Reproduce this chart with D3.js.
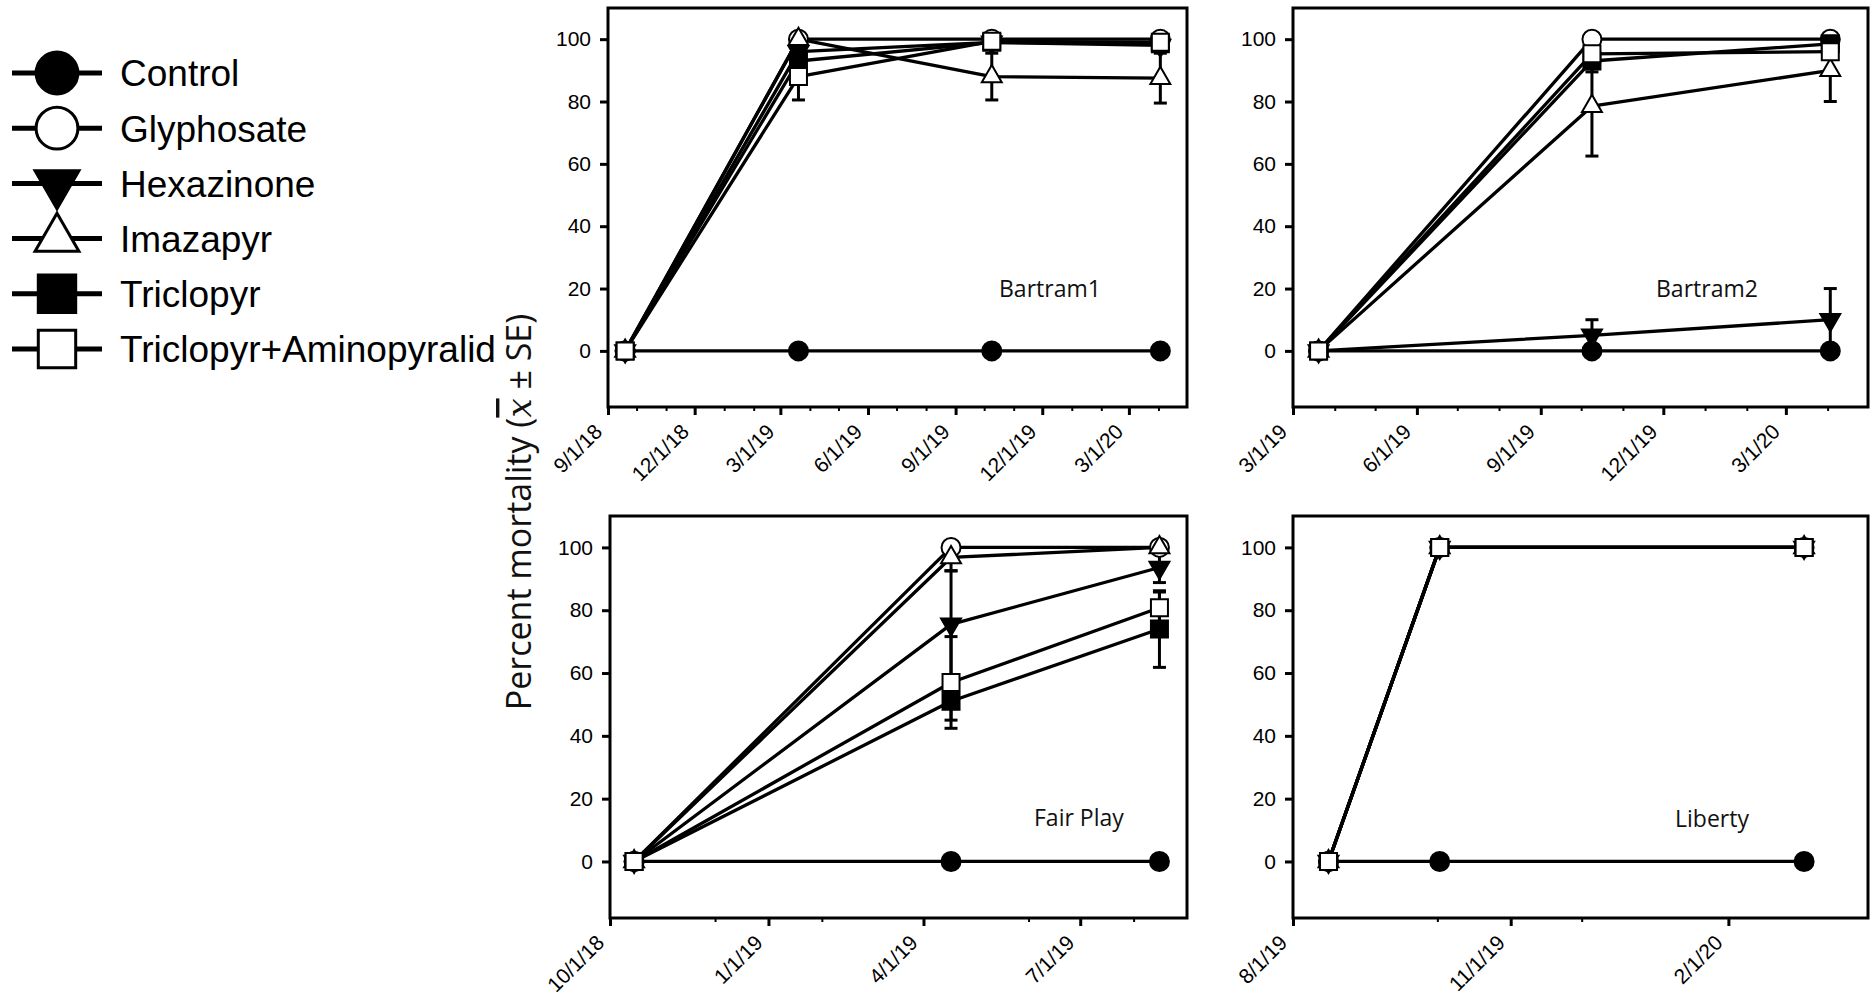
<!DOCTYPE html>
<html><head><meta charset="utf-8">
<script src="https://cdn.jsdelivr.net/npm/d3@7"></script>
<style>body{margin:0;background:#fff} svg{display:block}</style>
</head><body><svg id="chart" width="1870" height="999"></svg>
<script>
// ---------------- DATA ----------------
const seriesNames = ["Control","Glyphosate","Hexazinone","Imazapyr","Triclopyr","Triclopyr+Aminopyralid"];
const siteNames = ["Bartram1","Bartram2","Fair Play","Liberty"];
const yTickValues = [0,20,40,60,80,100];
const yDomain = [-18,110];

const bartram1Dates = ["9/19/18","3/20/19","10/9/19","4/3/20"];
const bartram1Values = [
  [0,0,0,0],
  [0,100,100,100],
  [0,96,99,98],
  [0,100,88,87.5],
  [0,93,99,98.5],
  [0,88,99.3,99]
];
const bartram1SE = [
  [0,0,0,0],[0,0,0,0],[0,0,0,0],[0,0,7.5,8],[0,0,0,0],[0,7.5,0,0]
];
const bartram1AxisDomain = ["9/1/18","5/1/20"];
const bartram1TickLabels = ["9/1/18","12/1/18","3/1/19","6/1/19","9/1/19","12/1/19","3/1/20"];

const bartram2Dates = ["3/20/19","10/9/19","4/3/20"];
const bartram2Values = [
  [0,0,0],
  [0,100,100],
  [0,5,10],
  [0,78.5,90],
  [0,93,98.5],
  [0,95.3,96]
];
const bartram2SE = [
  [0,0,0],[0,0,0],[0,5,10],[0,16,10],[0,3.5,0],[0,4,0]
];
const bartram2AxisDomain = ["3/1/19","5/1/20"];
const bartram2TickLabels = ["3/1/19","6/1/19","9/1/19","12/1/19","3/1/20"];

const fairPlayDates = ["10/15/18","4/17/19","8/16/19"];
const fairPlayValues = [
  [0,0,0],
  [0,100,100],
  [0,75.5,93.6],
  [0,96.8,100],
  [0,51,74],
  [0,57,80.8]
];
const fairPlaySE = [
  [0,0,0],[0,0,0],[0,17,4.8],[0,4.2,0],[0,6,12.2],[0,14.6,5]
];
const fairPlayAxisDomain = ["10/1/18","9/1/19"];
const fairPlayTickLabels = ["10/1/18","1/1/19","4/1/19","7/1/19"];
const fairPlayMinorTicks = ["12/1/18","2/1/19","6/1/19","8/1/19"];

const libertyDates = ["8/16/19","10/2/19","3/4/20"];
const libertyValues = [
  [0,0,0],
  [0,100,100],
  [0,100,100],
  [0,100,100],
  [0,100,100],
  [0,100,100]
];
const libertySE = [
  [0,0,0],[0,0,0],[0,0,0],[0,0,0],[0,0,0],[0,0,0]
];
const libertyAxisDomain = ["8/1/19","3/31/20"];
const libertyTickLabels = ["8/1/19","11/1/19","2/1/20"];
const libertyMinorTicks = ["10/1/19","12/1/19"];

// ---------------- STYLE / LAYOUT ----------------
const markerShapes = ["circle","circle","triDown","triUp","square","square"];
const markerFills  = ["#000","#fff","#000","#fff","#000","#fff"];

function parseDate(s){ const [m,d,y] = s.split("/").map(Number); return new Date(2000+y, m-1, d); }

const panels = [
  {name:siteNames[0], dates:bartram1Dates, values:bartram1Values, se:bartram1SE, domain:bartram1AxisDomain,
   ticks:bartram1TickLabels, minor:null, x0:608, x1:1187, y0:8, y1:407, lx:999, ly:297},
  {name:siteNames[1], dates:bartram2Dates, values:bartram2Values, se:bartram2SE, domain:bartram2AxisDomain,
   ticks:bartram2TickLabels, minor:null, x0:1293, x1:1868, y0:8, y1:407, lx:1656, ly:297},
  {name:siteNames[2], dates:fairPlayDates, values:fairPlayValues, se:fairPlaySE, domain:fairPlayAxisDomain,
   ticks:fairPlayTickLabels, minor:fairPlayMinorTicks, x0:610, x1:1187, y0:516, y1:918, lx:1034, ly:826},
  {name:siteNames[3], dates:libertyDates, values:libertyValues, se:libertySE, domain:libertyAxisDomain,
   ticks:libertyTickLabels, minor:libertyMinorTicks, x0:1293, x1:1868, y0:516, y1:918, lx:1675, ly:827}
];

function shapePath(type, k){
  if(type==="circle"){ const r=9.5*k; return `M${r},0A${r},${r} 0 1,1 ${-r},0A${r},${r} 0 1,1 ${r},0Z`; }
  if(type==="square"){ const s=8.5*k; return `M${-s},${-s}H${s}V${s}H${-s}Z`; }
  const R=11.5*k, w=R*0.866;
  if(type==="triUp") return `M0,${-R}L${w},${R/2}L${-w},${R/2}Z`;
  return `M0,${R}L${w},${-R/2}L${-w},${-R/2}Z`;
}

const svg = d3.select("#chart");
const tickFont = "'Liberation Sans', Arial, sans-serif";
const labelFont = "'Open Sans', 'Noto Sans', sans-serif";

panels.forEach(p => {
  const g = svg.append("g");
  const x = d3.scaleTime().domain(p.domain.map(parseDate)).range([p.x0, p.x1]);
  const y = d3.scaleLinear().domain(yDomain).range([p.y1, p.y0]);

  const ya = g.append("g").attr("transform",`translate(${p.x0},0)`)
    .call(d3.axisLeft(y).tickValues(yTickValues).tickSize(8).tickSizeOuter(0).tickPadding(9));
  ya.select(".domain").remove();
  ya.selectAll("line").attr("stroke","#000").attr("stroke-width",3);
  ya.selectAll("text").attr("font-family",tickFont).attr("font-size",21).attr("fill","#000");

  const majors = p.ticks.map(parseDate);
  const xa = g.append("g").attr("transform",`translate(0,${p.y1})`)
    .call(d3.axisBottom(x).tickValues(majors).tickSize(8).tickSizeOuter(0)
      .tickFormat((d,i)=>p.ticks[i]));
  xa.select(".domain").remove();
  xa.selectAll("line").attr("stroke","#000").attr("stroke-width",3);
  xa.selectAll("text").attr("font-family",tickFont).attr("font-size",21).attr("fill","#000")
    .attr("x",0).attr("y",0).attr("dy",0).attr("text-anchor","end")
    .attr("transform","translate(-5,26) rotate(-45)");

  let minors;
  if(p.minor) minors = p.minor.map(parseDate);
  else {
    const majorT = new Set(majors.map(d=>+d));
    minors = d3.timeMonth.range(x.domain()[0], x.domain()[1]).filter(d=>!majorT.has(+d));
  }
  const xm = g.append("g").attr("transform",`translate(0,${p.y1})`)
    .call(d3.axisBottom(x).tickValues(minors).tickSize(4).tickSizeOuter(0).tickFormat(""));
  xm.select(".domain").remove();
  xm.selectAll("line").attr("stroke","#000").attr("stroke-width",2);

  const dates = p.dates.map(parseDate);

  p.values.forEach((vals,si)=>{
    vals.forEach((v,i)=>{
      const e = p.se[si][i];
      if(!e) return;
      const cx = x(dates[i]);
      const yl = y(v-e), yh = y(v+e);
      g.append("line").attr("x1",cx).attr("x2",cx).attr("y1",yl).attr("y2",yh)
        .attr("stroke","#000").attr("stroke-width",3);
      [yl,yh].forEach(yy=>g.append("line").attr("x1",cx-6.5).attr("x2",cx+6.5).attr("y1",yy).attr("y2",yy)
        .attr("stroke","#000").attr("stroke-width",3));
    });
  });

  const lineGen = d3.line().x((d,i)=>x(dates[i])).y(d=>y(d));
  p.values.forEach(vals=>{
    g.append("path").attr("d",lineGen(vals)).attr("fill","none")
      .attr("stroke","#000").attr("stroke-width",3.3).attr("stroke-linejoin","round");
  });

  p.values.forEach((vals,si)=>{
    vals.forEach((v,i)=>{
      g.append("path").attr("d",shapePath(markerShapes[si],1))
        .attr("transform",`translate(${x(dates[i])},${y(v)})`)
        .attr("fill",markerFills[si]).attr("stroke","#000").attr("stroke-width",2);
    });
  });

  g.append("rect").attr("x",p.x0).attr("y",p.y0).attr("width",p.x1-p.x0).attr("height",p.y1-p.y0)
    .attr("fill","none").attr("stroke","#000").attr("stroke-width",3);

  g.append("text").attr("x",p.lx).attr("y",p.ly).text(p.name)
    .attr("font-family",labelFont).attr("font-size",23).attr("fill","#111");
});

const yt = svg.append("text").attr("transform","translate(531,512) rotate(-90)")
  .attr("text-anchor","middle").attr("font-family",labelFont).attr("font-size",34).attr("fill","#111");
yt.append("tspan").text("Percent mortality (");
yt.append("tspan").text("x").attr("font-family","'DejaVu Serif', serif").attr("font-style","italic")
  .style("text-decoration","overline");
yt.append("tspan").text(" ± SE)");

const legend = svg.append("g");
seriesNames.forEach((name,i)=>{
  const cy = 73 + i*55.2;
  legend.append("line").attr("x1",12).attr("x2",102).attr("y1",cy).attr("y2",cy)
    .attr("stroke","#000").attr("stroke-width",5);
  legend.append("path").attr("d",shapePath(markerShapes[i],2.2))
    .attr("transform",`translate(57,${cy})`)
    .attr("fill",markerFills[i]).attr("stroke","#000").attr("stroke-width",3);
  legend.append("text").attr("x",120).attr("y",cy).attr("dy","0.36em").text(name)
    .attr("font-family",tickFont).attr("font-size",37).attr("fill","#000");
});
</script>
</body></html>
